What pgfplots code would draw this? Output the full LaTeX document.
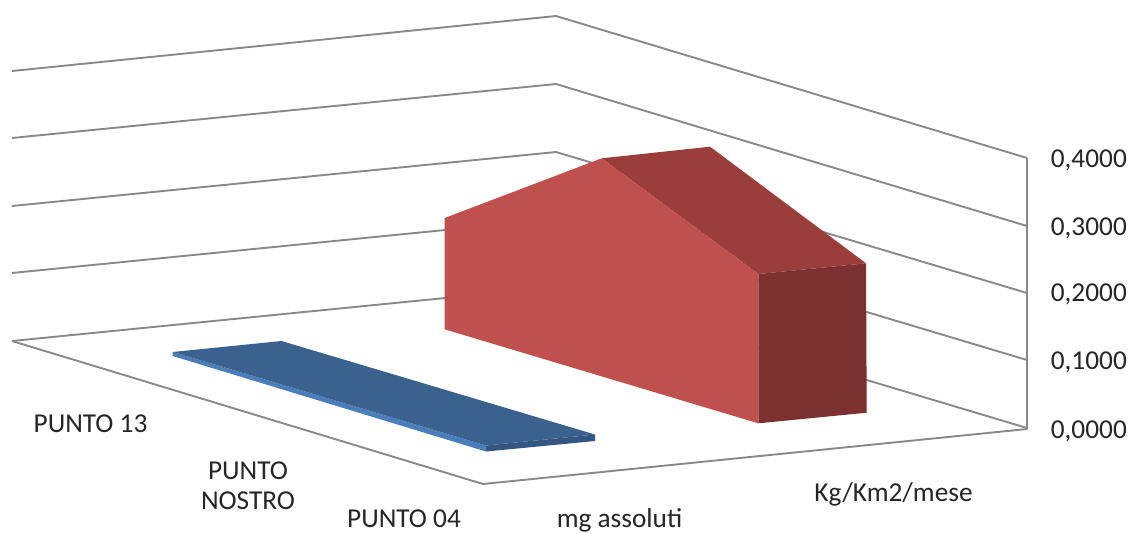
\documentclass[border=0pt]{standalone}
\usepackage{pgfplots}
\pgfplotsset{compat=1.18}
\usepackage{fontspec}
\setmainfont{Carlito}

\definecolor{gridgray}{HTML}{898989}
\definecolor{redfront}{HTML}{C0504D}
\definecolor{redtop}{HTML}{9A3D3B}
\definecolor{redside}{HTML}{7C302F}
\definecolor{bluetop}{HTML}{3B618F}
\definecolor{bluefront}{HTML}{4A7EBB}
\definecolor{blueside}{HTML}{345680}

\begin{document}
\begin{tikzpicture}
% the chart is a perspective view, so the axis is the picture plane: x, y as measured on the image
\begin{axis}[
width=1131pt, height=533pt, scale only axis,
xmin=0, xmax=1131, ymin=0, ymax=533,
y dir=reverse,
hide axis,
clip=false,
nodes={font=\fontsize{27.3}{31}\selectfont, text=black!85, inner sep=0pt, align=center},
]
% keeps the page at full size
\addplot[draw=none, fill=white] coordinates {(0,0) (1131,0) (1131,533) (0,533)} \closedcycle;

% gridlines: left wall end, back corner, right wall end
\addplot[gridgray, line width=1.9pt] coordinates {(12,71) (556,16) (1027,158)};
\addplot[gridgray, line width=1.9pt] coordinates {(12,138) (556,84) (1027,226)};
\addplot[gridgray, line width=1.9pt] coordinates {(12,206) (556,152) (1027,293)};
\addplot[gridgray, line width=1.9pt] coordinates {(12,273) (556,219) (1027,360)};
\addplot[gridgray, line width=1.9pt] coordinates {(12,341) (556,287) (1027,428)};
% floor front edges and value axis
\addplot[gridgray, line width=1.9pt] coordinates {(12,341) (483,484) (1027,429)};
\addplot[gridgray, line width=1.9pt] coordinates {(1027,158) (1027,429)};

% mg assoluti (blue)
\addplot[draw=none, fill=bluefront] coordinates {(172.7,352) (486,445.5) (486,451.5) (172.7,356)} --cycle;
\addplot[draw=none, fill=blueside] coordinates {(486,445.5) (595,434.5) (595,441) (486,451.5)} --cycle;
\addplot[draw=none, fill=bluetop] coordinates {(172.7,352) (281.5,341) (595,434.5) (486,445.5)} --cycle;

% Kg/Km2/mese (red)
\addplot[draw=none, fill=redtop] coordinates {(601.7,158.3) (710,146.7) (866,263.3) (758.3,274)} --cycle;
\addplot[draw=none, fill=redside] coordinates {(758.3,274) (866,263.3) (866.7,412.7) (758.3,423.3)} --cycle;
\addplot[draw=none, fill=redfront] coordinates {(444.7,218) (601.7,158.3) (758.3,274) (758.3,423.3) (444.7,329.3)} --cycle;

% value labels
\node[anchor=east] at (axis cs:1127,160.5) {0,4000};
\node[anchor=east] at (axis cs:1127,228.5) {0,3000};
\node[anchor=east] at (axis cs:1127,294.5) {0,2000};
\node[anchor=east] at (axis cs:1127,362.5) {0,1000};
\node[anchor=east] at (axis cs:1127,431) {0,0000};
% category labels
\node at (axis cs:90.5,424) {PUNTO 13};
\node at (axis cs:248,485.5) {PUNTO\\[-1pt]NOSTRO};
\node at (axis cs:404,519) {PUNTO 04};
\node at (axis cs:619.5,520) {mg assoluti};
\node at (axis cs:893.5,494) {Kg/Km2/mese};
\end{axis}
\end{tikzpicture}
\end{document}
